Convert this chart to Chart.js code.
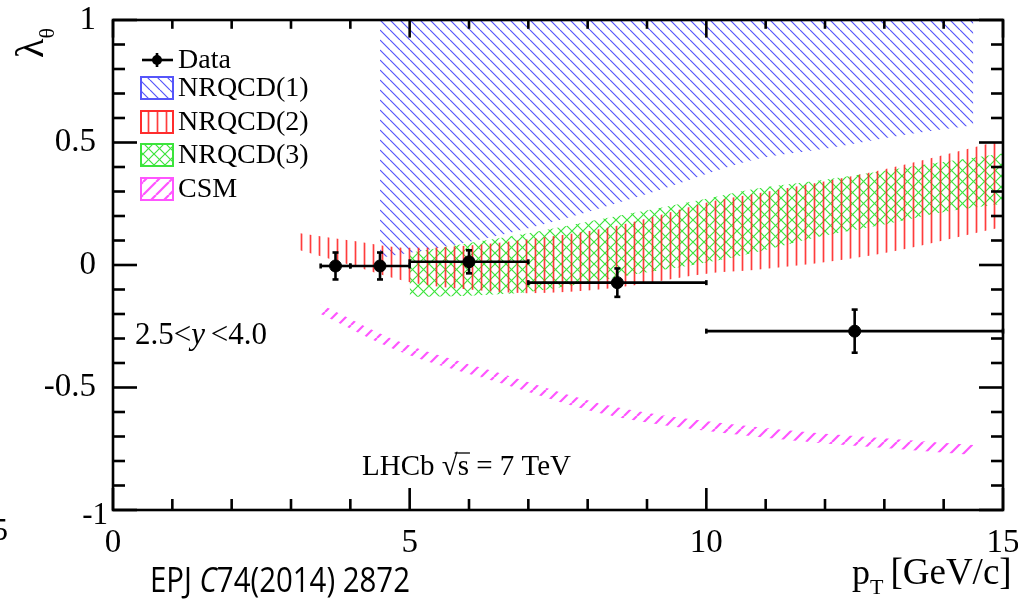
<!DOCTYPE html>
<html>
<head>
<meta charset="utf-8">
<script src="https://cdn.jsdelivr.net/npm/chart.js"></script>
<style>
  body { margin: 0; background: #fff; }
  #wrap { width: 1018px; height: 601px; }
</style>
</head>
<body>
<div id="wrap"><canvas id="canvas" width="1018" height="601"></canvas></div>
<script>
// measured points (LHCb)
var ptCentre = [3.75, 4.5, 6.0, 8.5, 12.5];
var ptLow = [3.5, 4.0, 5.0, 7.0, 10.0];
var ptHigh = [4.0, 5.0, 7.0, 10.0, 15.0];
var lambdaTheta = [-0.004, -0.004, 0.013, -0.072, -0.27];
var lambdaErr = [0.055, 0.055, 0.047, 0.058, 0.088];

// theory bands, lower / upper edge
var nrqcd1Pt = [4.5, 5.5, 7.0, 9.0, 10.8, 12.0, 13.3, 14.5];
var nrqcd1Low = [0.03, 0.07, 0.15, 0.29, 0.43, 0.475, 0.53, 0.57];
var nrqcd1High = [1, 1, 1, 1, 1, 1, 1, 1];

var nrqcd2Pt = [3.15, 4.0, 5.0, 6.0, 7.0, 8.4, 10.2, 10.8, 12.8, 15.0];
var nrqcd2Low = [0.06, 0.0, -0.07, -0.10, -0.115, -0.095, -0.03, -0.02, 0.04, 0.155];
var nrqcd2High = [0.13, 0.10, 0.07, 0.08, 0.105, 0.155, 0.265, 0.29, 0.38, 0.51];

var nrqcd3Pt = [5.0, 6.0, 7.0, 8.5, 10.0, 10.8, 11.9, 13.0, 14.1, 15.0];
var nrqcd3Low = [-0.13, -0.125, -0.11, -0.05, 0.01, 0.05, 0.115, 0.165, 0.22, 0.25];
var nrqcd3High = [0.05, 0.09, 0.13, 0.20, 0.27, 0.31, 0.345, 0.385, 0.425, 0.455];

var csmPt = [3.5, 4.8, 6.5, 8.3, 11.0, 13.0, 14.5];
var csmLow = [-0.2, -0.35, -0.48, -0.61, -0.705, -0.747, -0.775];
var csmHigh = [-0.16, -0.31, -0.44, -0.57, -0.665, -0.707, -0.735];

var legendLabels = ['Data', 'NRQCD(1)', 'NRQCD(2)', 'NRQCD(3)', 'CSM'];
var xTickLabels = [0, 5, 10, 15];
var yTickLabels = [-1, -0.5, 0, 0.5, 1];

var serif = '"Liberation Serif", "DejaVu Serif", serif';

function hatch(color, period, lw, kinds) {
  var c = document.createElement('canvas');
  c.width = period; c.height = period;
  var g = c.getContext('2d');
  g.strokeStyle = color;
  g.lineWidth = lw;
  kinds.forEach(function(k) {
    g.beginPath();
    if (k == 'v') { g.moveTo(period / 2, 0); g.lineTo(period / 2, period); }
    for (var o = -period; o <= period; o += period) {
      if (k == '\\') { g.moveTo(o, 0); g.lineTo(o + period, period); }
      if (k == '/') { g.moveTo(o, period); g.lineTo(o + period, 0); }
    }
    g.stroke();
  });
  return g.createPattern(c, 'repeat');
}

var blueCol = 'rgb(85,85,250)', redCol = 'rgb(255,45,45)', greenCol = 'rgb(60,228,60)', magCol = 'rgb(255,85,255)';
var bluePat = hatch(blueCol, 10, 1.2, ['\\']);
var redPat = hatch('rgba(255,40,40,0.9)', 9, 1.7, ['v']);
var greenPat = hatch(greenCol, 11, 1.2, ['\\', '/']);
var magPat = hatch(magCol, 13, 2.2, ['/']);
var patterns = [bluePat, redPat, greenPat, magPat];
var colours = [blueCol, redCol, greenCol, magCol];

function pts(xs, ys) {
  return xs.map(function(v, i) { return {x: v, y: ys[i]}; });
}

function band(xs, lo, hi, pat, order) {
  var common = { type: 'line', pointRadius: 0, borderWidth: 0, borderColor: 'rgba(0,0,0,0)',
                 cubicInterpolationMode: 'monotone', order: order };
  return [
    Object.assign({ data: pts(xs, hi), fill: '+1', backgroundColor: pat }, common),
    Object.assign({ data: pts(xs, lo), fill: false }, common)
  ];
}

var datasets = [].concat(
  [{ type: 'scatter', data: pts(ptCentre, lambdaTheta), pointRadius: 6, pointBackgroundColor: '#000',
     pointBorderColor: '#000', order: 0 }],
  band(nrqcd2Pt, nrqcd2Low, nrqcd2High, redPat, 1),
  band(nrqcd3Pt, nrqcd3Low, nrqcd3High, greenPat, 2),
  band(nrqcd1Pt, nrqcd1Low, nrqcd1High, bluePat, 3),
  band(csmPt, csmLow, csmHigh, magPat, 4)
);

function seg(ctx, x0, y0, x1, y1) {
  ctx.beginPath(); ctx.moveTo(x0, y0); ctx.lineTo(x1, y1); ctx.stroke();
}

// error bars of the data points
var errorBars = {
  id: 'errorBars',
  afterDatasetsDraw: function(chart) {
    var ctx = chart.ctx, x = chart.scales.x, y = chart.scales.y;
    ctx.save();
    ctx.strokeStyle = '#000';
    ctx.lineWidth = 2.6;
    ptCentre.forEach(function(p, i) {
      var py = y.getPixelForValue(lambdaTheta[i]);
      var px = x.getPixelForValue(p);
      var x0 = x.getPixelForValue(ptLow[i]), x1 = x.getPixelForValue(ptHigh[i]);
      var y0 = y.getPixelForValue(lambdaTheta[i] - lambdaErr[i]);
      var y1 = y.getPixelForValue(lambdaTheta[i] + lambdaErr[i]);
      seg(ctx, x0, py, x1, py);
      seg(ctx, px, y0, px, y1);
      seg(ctx, x0, py - 2.5, x0, py + 2.5);
      seg(ctx, x1, py - 2.5, x1, py + 2.5);
      seg(ctx, px - 3, y0, px + 3, y0);
      seg(ctx, px - 3, y1, px + 3, y1);
    });
    ctx.restore();
  }
};

// frame, inward ticks, legend and labels
var decorations = {
  id: 'decorations',
  afterDraw: function(chart) {
    var ctx = chart.ctx, a = chart.chartArea, x = chart.scales.x, y = chart.scales.y;
    ctx.save();
    ctx.strokeStyle = '#000';
    ctx.lineWidth = 2.6;
    ctx.strokeRect(a.left, a.top, a.right - a.left, a.bottom - a.top);

    // ticks
    for (var v = 0; v <= 15; v++) {
      var px = x.getPixelForValue(v);
      var len = (v % 5 == 0) ? 22 : 11;
      seg(ctx, px, a.bottom, px, a.bottom - len);
      seg(ctx, px, a.top, px, a.top + len * 0.8);
    }
    for (var k = -10; k <= 10; k++) {
      var py = y.getPixelForValue(k / 10);
      var l = (k % 5 == 0) ? 24 : 12;
      seg(ctx, a.left, py, a.left + l, py);
      seg(ctx, a.right, py, a.right - l, py);
    }

    // legend
    ctx.fillStyle = '#000';
    ctx.font = '28px ' + serif;
    ctx.textBaseline = 'middle';
    ctx.textAlign = 'left';
    var ly = [60, 88, 122, 155, 189];
    seg(ctx, 142, ly[0], 173, ly[0]);
    seg(ctx, 157, ly[0] - 7, 157, ly[0] + 7);
    ctx.beginPath(); ctx.arc(157, ly[0], 5, 0, Math.PI * 2); ctx.fill();
    for (var i = 1; i < 5; i++) {
      ctx.fillStyle = patterns[i - 1];
      ctx.fillRect(141, ly[i] - 11, 32, 22);
      ctx.strokeStyle = colours[i - 1];
      ctx.lineWidth = 2;
      ctx.strokeRect(141, ly[i] - 11, 32, 22);
    }
    ctx.fillStyle = '#000';
    legendLabels.forEach(function(t, i) { ctx.fillText(t, 178, ly[i] + 1); });

    // rapidity range
    ctx.font = '31px ' + serif;
    ctx.textBaseline = 'alphabetic';
    var tx = 135, base = 344;
    ctx.fillText('2.5<', tx, base); tx += ctx.measureText('2.5<').width;
    ctx.font = 'italic 31px ' + serif;
    ctx.fillText('y', tx, base); tx += ctx.measureText('y ').width - 2;
    ctx.font = '31px ' + serif;
    ctx.fillText('<4.0', tx, base);

    // experiment label
    ctx.font = '29px ' + serif;
    tx = 362; base = 475;
    ctx.fillText('LHCb \u221A', tx, base);
    var wRoot = ctx.measureText('LHCb \u221A').width;
    ctx.fillText('s = 7 TeV', tx + wRoot, base);
    ctx.lineWidth = 1.3;
    ctx.strokeStyle = '#000';
    seg(ctx, tx + wRoot - 3, base - 22, tx + wRoot + ctx.measureText('s').width + 1, base - 22);

    // "-1" corner label
    ctx.font = '31px ' + serif;
    ctx.textAlign = 'right';
    ctx.fillText('-1', 108, 524);
    // piece of the neighbouring figure
    ctx.fillText('5', 8, 540);

    // x title
    ctx.textAlign = 'left';
    ctx.font = '36px ' + serif;
    tx = 852; base = 584;
    ctx.fillText('p', tx, base); tx += ctx.measureText('p').width;
    ctx.font = '22px ' + serif;
    ctx.fillText('T', tx, base + 10); tx += ctx.measureText('T').width + 7;
    ctx.font = '37px ' + serif;
    ctx.fillText('[GeV/c]', tx, base);

    // y title
    ctx.save();
    ctx.translate(43, 58);
    ctx.rotate(-Math.PI / 2);
    ctx.font = '40px ' + serif;
    ctx.fillText('\u03BB', 0, 0);
    var wl = ctx.measureText('\u03BB').width;
    ctx.font = '22px ' + serif;
    ctx.fillText('\u03B8', wl, 11);
    ctx.restore();

    // reference, squeezed to the width it has in the picture
    var sans = '"Open Sans", sans-serif';
    ctx.save();
    ctx.font = '34px ' + sans;
    var w1 = ctx.measureText('EPJ ').width, w3 = ctx.measureText('74(2014) 2872').width;
    ctx.font = 'italic 34px ' + sans;
    var w2 = ctx.measureText('C').width;
    ctx.translate(150, 592);
    ctx.scale(260 / (w1 + w2 + w3), 1);
    ctx.font = '34px ' + sans;
    ctx.fillText('EPJ ', 0, 0);
    ctx.font = 'italic 34px ' + sans;
    ctx.fillText('C', w1, 0);
    ctx.font = '34px ' + sans;
    ctx.fillText('74(2014) 2872', w1 + w2, 0);
    ctx.restore();

    ctx.restore();
  }
};

function plain(v) { return String(v); }

new Chart(document.getElementById('canvas'), {
  type: 'line',
  data: { datasets: datasets },
  plugins: [errorBars, decorations],
  options: {
    responsive: false,
    animation: false,
    layout: { padding: { top: 20, right: 15, left: 0, bottom: 0 } },
    plugins: { legend: { display: false }, tooltip: { enabled: false } },
    scales: {
      x: {
        type: 'linear', min: 0, max: 15,
        grid: { display: false }, border: { display: false },
        afterBuildTicks: function(s) { s.ticks = xTickLabels.map(function(v) { return {value: v}; }); },
        afterFit: function(s) { s.height = 91; s.paddingLeft = 0; s.paddingRight = 0; },
        ticks: { color: '#000', font: { family: serif, size: 33 }, padding: 6, maxRotation: 0, callback: plain }
      },
      y: {
        type: 'linear', min: -1, max: 1,
        grid: { display: false }, border: { display: false },
        afterBuildTicks: function(s) {
          s.ticks = yTickLabels.filter(function(v) { return v > -1; }).map(function(v) { return {value: v}; });
        },
        afterFit: function(s) { s.width = 113; s.paddingTop = 0; s.paddingBottom = 0; },
        ticks: { color: '#000', font: { family: serif, size: 33 }, padding: 9, callback: plain }
      }
    }
  }
});
</script>
</body>
</html>
